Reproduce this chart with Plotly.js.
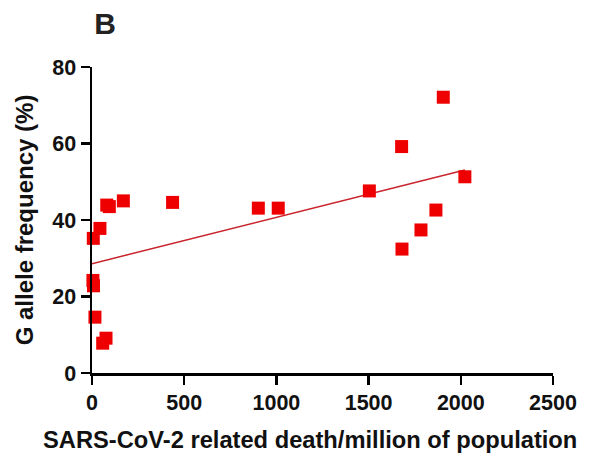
<!DOCTYPE html>
<html>
<head>
<meta charset="utf-8">
<script src="https://cdn.plot.ly/plotly-3.0.1.min.js"></script>
<style>html,body{margin:0;padding:0;background:#fff;}#chart{width:595px;height:465px;}</style>
</head>
<body>
<div id="chart"></div>
<script>
// Deaths per million vs G allele frequency (%)
const deathsPerMillion = [7, 43, 5, 8, 16, 58, 76, 80, 94, 170, 437, 902, 1010, 1504, 1679, 1681, 1784, 1865, 1905, 2022];
const gAlleleFreq      = [35.2, 37.8, 24.2, 22.8, 14.6, 7.8, 9.1, 43.9, 43.5, 45.0, 44.6, 43.1, 43.1, 47.6, 59.2, 32.4, 37.4, 42.6, 72.1, 51.3];
const xTicks = [0, 500, 1000, 1500, 2000, 2500];
const yTicks = [0, 20, 40, 60, 80];
const xTitle = 'SARS-CoV-2 related death/million of population';
const yTitle = 'G allele frequency (%)';
const panelLabel = 'B';

// least-squares fit line over the data range
const n = deathsPerMillion.length;
const mx = deathsPerMillion.reduce((a, b) => a + b, 0) / n;
const my = gAlleleFreq.reduce((a, b) => a + b, 0) / n;
let sxy = 0, sxx = 0;
for (let i = 0; i < n; i++) {
  sxy += (deathsPerMillion[i] - mx) * (gAlleleFreq[i] - my);
  sxx += (deathsPerMillion[i] - mx) ** 2;
}
const slope = sxy / sxx;
const intercept = my - slope * mx;
const fitX = [0, Math.max(...deathsPerMillion)];
const fitY = fitX.map(x => intercept + slope * x);

const font = 'Arial, "Liberation Sans", Helvetica, sans-serif';

const traces = [
  {
    x: fitX, y: fitY, type: 'scatter', mode: 'lines',
    line: {color: '#c8242c', width: 1.5},
    hoverinfo: 'skip', cliponaxis: false
  },
  {
    x: deathsPerMillion, y: gAlleleFreq, type: 'scatter', mode: 'markers',
    marker: {symbol: 'square', size: 13, color: '#ee0000', line: {width: 0}},
    cliponaxis: false
  }
];

const layout = {
  width: 595, height: 465,
  margin: {l: 92, r: 42, t: 67, b: 92},
  paper_bgcolor: '#fff', plot_bgcolor: '#fff',
  showlegend: false,
  font: {family: font, color: '#111'},
  title: {
    text: '<b>' + panelLabel + '</b>', font: {family: font, size: 30, color: '#222'},
    xref: 'paper', x: 0.005, xanchor: 'left',
    yref: 'container', y: 1 - 23 / 465, yanchor: 'middle'
  },
  xaxis: {
    range: [0, 2500], tickvals: xTicks, ticktext: xTicks.map(String),
    showgrid: false, zeroline: false,
    showline: true, linecolor: '#000', linewidth: 2.5,
    ticks: 'outside', ticklen: 9, tickwidth: 2.5, tickcolor: '#000',
    tickfont: {family: font, size: 21.5, weight: 'bold', color: '#111'}
  },
  yaxis: {
    range: [0, 80], tickvals: yTicks, ticktext: yTicks.map(String),
    showgrid: false, zeroline: false,
    showline: true, linecolor: '#000', linewidth: 2.5,
    ticks: 'outside', ticklen: 9, tickwidth: 2.5, tickcolor: '#000',
    tickfont: {family: font, size: 21.5, weight: 'bold', color: '#111'},
    title: {text: yTitle,
            font: {family: font, size: 24, weight: 'bold', color: '#111'}, standoff: 12}
  },
  annotations: [{
    text: '<b>' + xTitle + '</b>',
    font: {family: font, size: 23.7, color: '#111'},
    xref: 'paper', x: (310 - 92) / 461, xanchor: 'center',
    yref: 'paper', y: -(440 - 373) / 306, yanchor: 'middle',
    showarrow: false
  }]
};

Plotly.newPlot('chart', traces, layout, {displayModeBar: false, staticPlot: true});
</script>
</body>
</html>
